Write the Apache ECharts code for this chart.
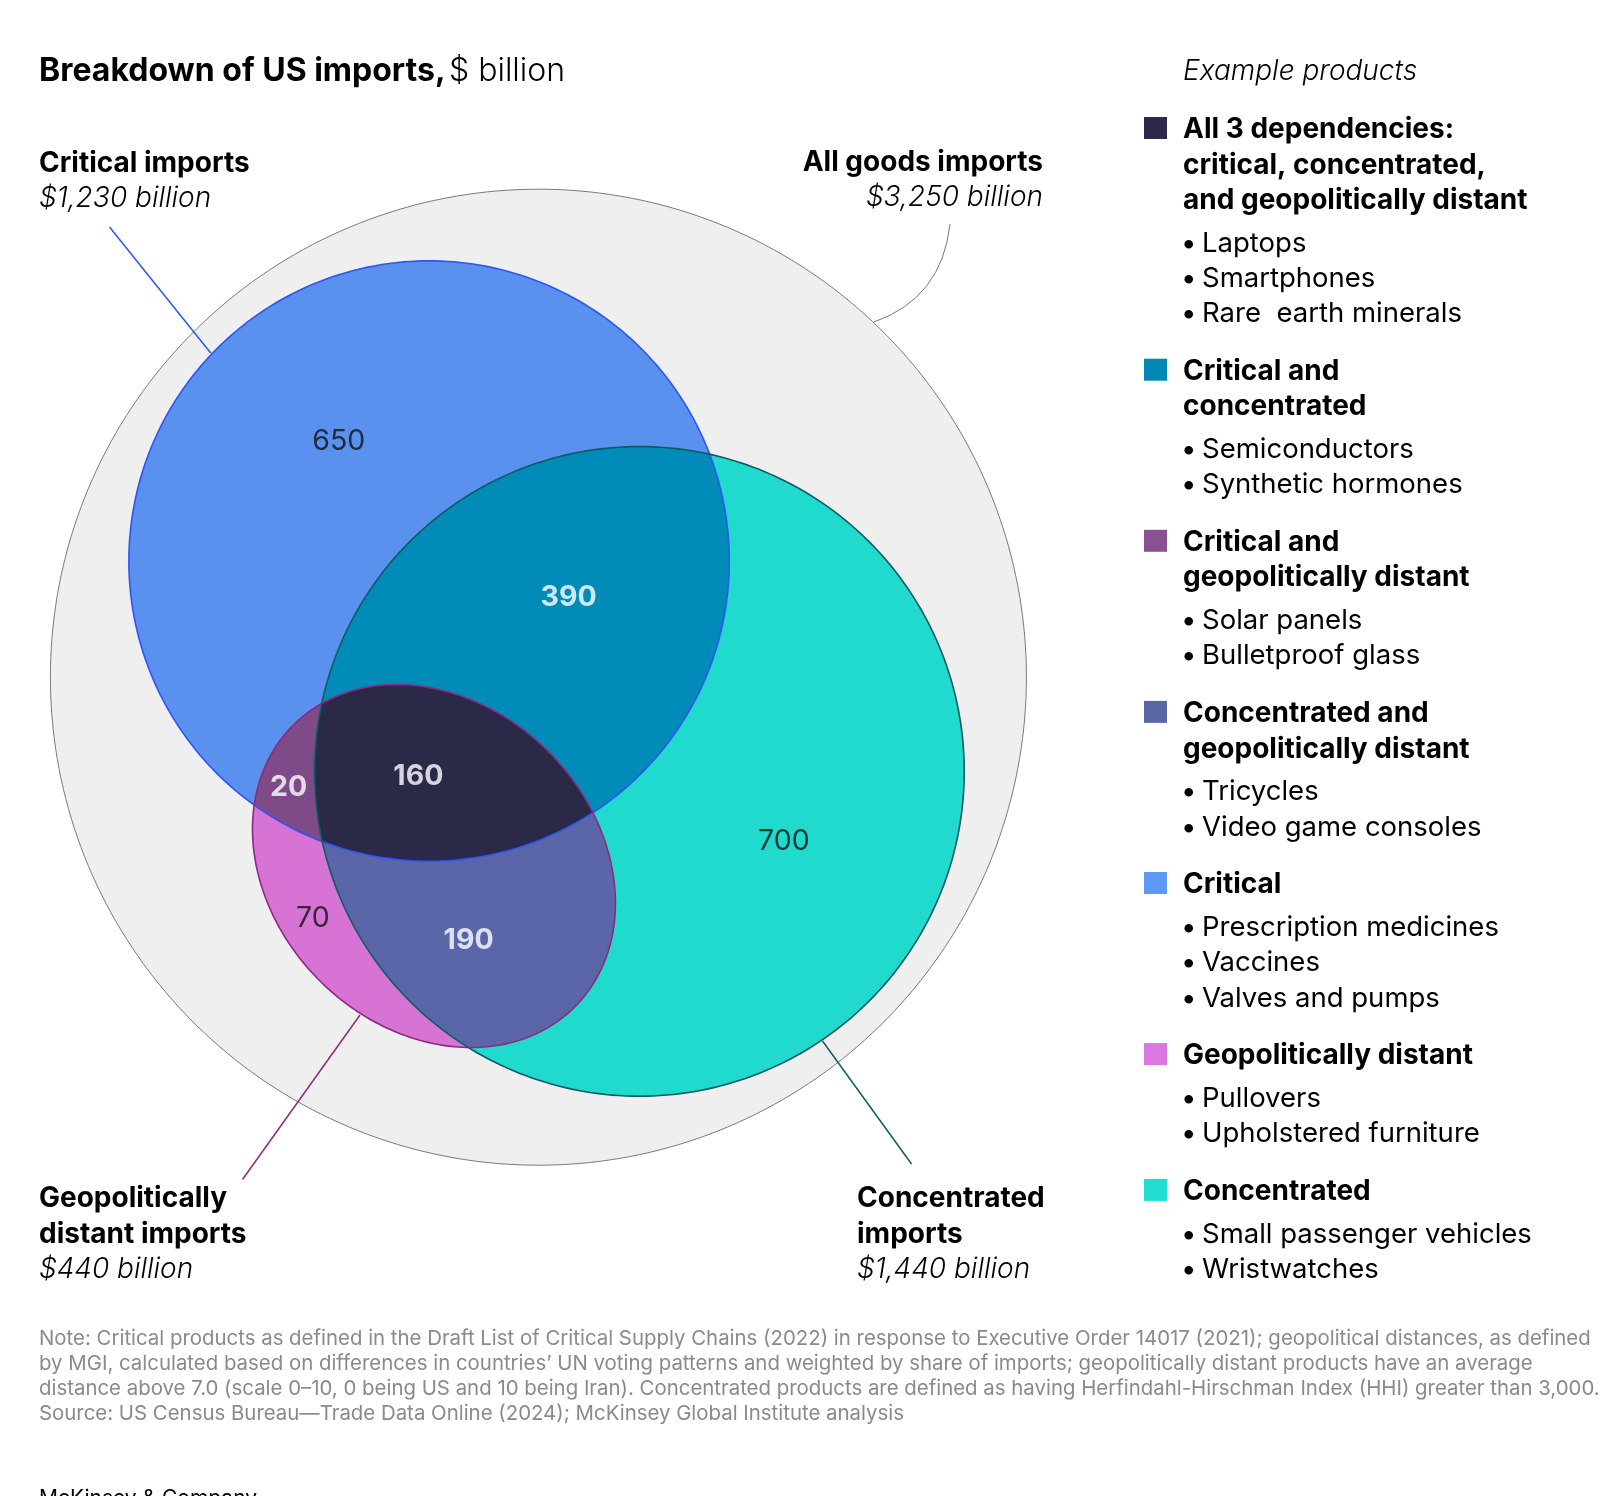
<!DOCTYPE html>
<html>
<head>
<meta charset="utf-8">
<title>Breakdown of US imports</title>
<script src="https://cdn.jsdelivr.net/npm/echarts@6/dist/echarts.min.js"></script>
<style>
  html, body { margin: 0; padding: 0; background: #fff; }
  #chart { width: 1604px; height: 1496px; }
</style>
</head>
<body>
<div id="chart"></div>
<script>
  // sets, $ billion
  const setNames = ['All goods imports', 'Critical imports', 'Concentrated imports', 'Geopolitically distant imports']
  const setValues = [3250, 1230, 1440, 440]

  // exclusive parts of the venn, $ billion
  const regionNames = ['Critical', 'Critical and concentrated', 'Critical and geopolitically distant',
    'All 3 dependencies', 'Geopolitically distant', 'Concentrated and geopolitically distant', 'Concentrated']
  const regionValues = [650, 390, 20, 160, 70, 190, 700]

  // legend: example products
  const legendHeads = [
    ['All 3 dependencies:', 'critical, concentrated,', 'and geopolitically distant'],
    ['Critical and', 'concentrated'],
    ['Critical and', 'geopolitically distant'],
    ['Concentrated and', 'geopolitically distant'],
    ['Critical'],
    ['Geopolitically distant'],
    ['Concentrated']
  ]
  const legendProducts = [
    ['Laptops', 'Smartphones', 'Rare  earth minerals'],
    ['Semiconductors', 'Synthetic hormones'],
    ['Solar panels', 'Bulletproof glass'],
    ['Tricycles', 'Video game consoles'],
    ['Prescription medicines', 'Vaccines', 'Valves and pumps'],
    ['Pullovers', 'Upholstered furniture'],
    ['Small passenger vehicles', 'Wristwatches']
  ]

  const noteLines = [
    'Note: Critical products as defined in the Draft List of Critical Supply Chains (2022) in response to Executive Order 14017 (2021); geopolitical distances, as defined',
    'by MGI, calculated based on differences in countries\u2019 UN voting patterns and weighted by share of imports; geopolitically distant products have an average',
    'distance above 7.0 (scale 0\u201310, 0 being US and 10 being Iran). Concentrated products are defined as having Herfindahl-Hirschman Index (HHI) greater than 3,000.',
    'Source: US Census Bureau\u2014Trade Data Online (2024); McKinsey Global Institute analysis'
  ]

  const FONT = 'Inter, "Noto Sans", sans-serif'

  // layout of the venn, in units of the all-goods radius
  const setCentres = [[0, 0], [-0.224, -0.238], [0.207, 0.193], [-0.214, 0.387]]
  const geoStretch = 1.23 // geo set is drawn as a tilted ellipse
  const geoTilt = Math.PI / 4
  const regionLabelPos = [[-0.409, -0.484], [0.062, -0.163], [-0.512, 0.226], [-0.246, 0.204],
    [-0.462, 0.495], [-0.143, 0.539], [0.503, 0.336]]
  const regionLabelLight = [false, true, true, true, false, true, false]

  const legendColors = ['#2b2a4c', '#0088b5', '#8a5092', '#5b66a6', '#5e98f7', '#da78e0', '#22dcd0']
  const outlineColors = ['#7a7a7a', '#2f55f2', '#0f5b63', '#8c2a80']

  // painter order: later layers cover earlier ones
  const paintLayers = [
    {sets: [0], color: '#efefef'},
    {sets: [1], color: '#5a90ee'},
    {sets: [2], color: '#21dace'},
    {sets: [1, 2], color: '#008bb8'},
    {sets: [3], color: '#d673d4'},
    {sets: [1, 3], color: '#7f4a88'},
    {sets: [2, 3], color: '#5a66a8'},
    {sets: [1, 2, 3], color: '#2a2948'}
  ]

  // outline of a set in data units, area proportional to its value
  function setShape(i, cx, cy, value) {
    const r = Math.sqrt(value / setValues[0])
    const a = i === 3 ? r * Math.sqrt(geoStretch) : r
    const b = i === 3 ? r / Math.sqrt(geoStretch) : r
    const rot = i === 3 ? geoTilt : 0
    const pts = []
    const n = 300
    for (let k = 0; k < n; k++) {
      const t = k / n * Math.PI * 2
      const ex = a * Math.cos(t)
      const ey = b * Math.sin(t)
      pts.push([cx + ex * Math.cos(rot) - ey * Math.sin(rot), cy + ex * Math.sin(rot) + ey * Math.cos(rot)])
    }
    return pts
  }

  function cross(P, Q, A, B) {
    const d1x = Q[0] - P[0], d1y = Q[1] - P[1]
    const d2x = B[0] - A[0], d2y = B[1] - A[1]
    const t = ((A[0] - P[0]) * d2y - (A[1] - P[1]) * d2x) / (d1x * d2y - d1y * d2x)
    return [P[0] + t * d1x, P[1] + t * d1y]
  }

  // Sutherland-Hodgman, both shapes are convex
  function clip(subject, clipper) {
    let out = subject
    for (let i = 0; i < clipper.length && out.length; i++) {
      const A = clipper[i], B = clipper[(i + 1) % clipper.length]
      const inside = p => (B[0] - A[0]) * (p[1] - A[1]) - (B[1] - A[1]) * (p[0] - A[0]) >= 0
      const input = out
      out = []
      for (let j = 0; j < input.length; j++) {
        const P = input[j], Q = input[(j + 1) % input.length]
        const pin = inside(P), qin = inside(Q)
        if (pin) out.push(P)
        if (pin !== qin) out.push(cross(P, Q, A, B))
      }
    }
    return out
  }

  const shapes = setValues.map((v, i) => setShape(i, setCentres[i][0], setCentres[i][1], v))

  function txt(x, baseline, text, size, opt = {}) {
    return {
      type: 'text',
      silent: true,
      z: 100,
      style: {
        x: x,
        y: baseline - size * 0.36,
        text: text,
        fontFamily: FONT,
        fontSize: size,
        fontWeight: opt.weight || 'normal',
        fontStyle: opt.italic ? 'italic' : 'normal',
        fill: opt.color || '#000',
        textAlign: opt.align || 'left',
        textVerticalAlign: 'middle'
      }
    }
  }

  const graphics = []

  // title
  graphics.push({
    type: 'text',
    silent: true,
    style: {
      x: 39, y: 83 - 32 * 0.36,
      text: '{b|Breakdown of US imports,} {l|$ billion}',
      textVerticalAlign: 'middle',
      rich: {
        b: {fontFamily: FONT, fontSize: 32, fontWeight: 'bold', fill: '#000'},
        l: {fontFamily: FONT, fontSize: 32, fontWeight: 300, fill: '#000'}
      }
    }
  })

  // set annotations
  const annSize = 28
  graphics.push(txt(39, 174, 'Critical imports', annSize, {weight: 'bold'}))
  graphics.push(txt(39, 209, '$1,230 billion', annSize, {italic: true, weight: 300}))
  graphics.push(txt(1043, 173, 'All goods imports', annSize, {weight: 'bold', align: 'right'}))
  graphics.push(txt(1043, 208, '$3,250 billion', annSize, {italic: true, weight: 300, align: 'right'}))
  graphics.push(txt(39, 1209, 'Geopolitically', annSize, {weight: 'bold'}))
  graphics.push(txt(39, 1245, 'distant imports', annSize, {weight: 'bold'}))
  graphics.push(txt(39, 1280, '$440 billion', annSize, {italic: true, weight: 300}))
  graphics.push(txt(857, 1209, 'Concentrated', annSize, {weight: 'bold'}))
  graphics.push(txt(857, 1245, 'imports', annSize, {weight: 'bold'}))
  graphics.push(txt(857, 1280, '$1,440 billion', annSize, {italic: true, weight: 300}))

  // leader lines
  graphics.push({type: 'line', silent: true, z: 100, shape: {x1: 109.5, y1: 227, x2: 210.7, y2: 353},
    style: {stroke: outlineColors[1], lineWidth: 1.5}})
  graphics.push({type: 'line', silent: true, z: 100, shape: {x1: 360, y1: 1015, x2: 242.5, y2: 1179.5},
    style: {stroke: outlineColors[3], lineWidth: 1.5}})
  graphics.push({type: 'line', silent: true, z: 100, shape: {x1: 822.5, y1: 1041, x2: 911.5, y2: 1164},
    style: {stroke: outlineColors[2], lineWidth: 1.5}})
  graphics.push({type: 'bezierCurve', silent: true, z: 100,
    shape: {x1: 950, y1: 224, cpx1: 942, cpy1: 298, x2: 874, y2: 322},
    style: {stroke: '#777', lineWidth: 1, fill: null}})

  // legend
  graphics.push(txt(1183, 82, 'Example products', 28, {italic: true, weight: 300}))
  const headSize = 28
  const itemSize = 27.5
  const lineGap = 35.3
  let base = 140
  legendHeads.forEach((head, i) => {
    graphics.push({type: 'rect', silent: true, shape: {x: 1144, y: base - 23, width: 23, height: 22},
      style: {fill: legendColors[i]}})
    head.forEach((line, k) => {
      graphics.push(txt(1183, base + k * lineGap, line, headSize, {weight: 'bold'}))
    })
    base += (head.length - 1) * lineGap + 42.7
    legendProducts[i].forEach((p, k) => {
      graphics.push(txt(1181, base, '\u2022', itemSize))
      graphics.push(txt(1202, base, p, itemSize))
      if (k < legendProducts[i].length - 1) base += lineGap
    })
    base += 57.8
  })

  // notes
  noteLines.forEach((line, k) => {
    graphics.push(txt(39, 1346 + k * 25, line, 20.4, {color: '#8a8a8a'}))
  })
  graphics.push(txt(39, 1506, 'McKinsey & Company', 21, {color: '#000'}))

  const chart = echarts.init(document.getElementById('chart'))
  const span = 1.1
  const unitPx = 488
  chart.setOption({
    animation: false,
    backgroundColor: '#fff',
    grid: {left: 538.4 - span * unitPx, top: 677.2 - span * unitPx, width: 2 * span * unitPx, height: 2 * span * unitPx},
    xAxis: {type: 'value', min: -span, max: span, show: false},
    yAxis: {type: 'value', min: -span, max: span, inverse: true, show: false},
    graphic: {elements: graphics, z: 100},
    series: [
      {
        name: 'areas',
        type: 'custom',
        silent: true,
        clip: false,
        data: paintLayers.map(l => setCentres[l.sets[0]]),
        renderItem(params, api) {
          const layer = paintLayers[params.dataIndex]
          let poly = shapes[layer.sets[0]]
          for (let k = 1; k < layer.sets.length; k++) {
            poly = clip(poly, shapes[layer.sets[k]])
          }
          return {
            type: 'polygon',
            shape: {points: poly.map(p => api.coord(p))},
            style: {fill: layer.color, stroke: null}
          }
        }
      },
      {
        name: 'outlines',
        type: 'custom',
        silent: true,
        clip: false,
        data: setValues.map((v, i) => [setCentres[i][0], setCentres[i][1], v]),
        renderItem(params, api) {
          const i = params.dataIndex
          const pts = setShape(i, api.value(0), api.value(1), api.value(2))
          return {
            type: 'polygon',
            shape: {points: pts.map(p => api.coord(p))},
            style: {fill: null, stroke: outlineColors[i], lineWidth: i === 0 ? 1 : 1.6}
          }
        }
      },
      {
        name: 'values',
        type: 'scatter',
        silent: true,
        symbolSize: 0,
        data: regionValues.map((v, i) => ({
          name: regionNames[i],
          value: [regionLabelPos[i][0], regionLabelPos[i][1], v],
          label: {
            color: regionLabelLight[i] ? '#fff' : '#111',
            fontWeight: regionLabelLight[i] ? 'bold' : 'normal'
          }
        })),
        label: {
          show: true,
          position: 'inside',
          fontFamily: FONT,
          fontSize: 28.5,
          formatter: p => p.value[2]
        }
      }
    ]
  })
</script>
</body>
</html>
